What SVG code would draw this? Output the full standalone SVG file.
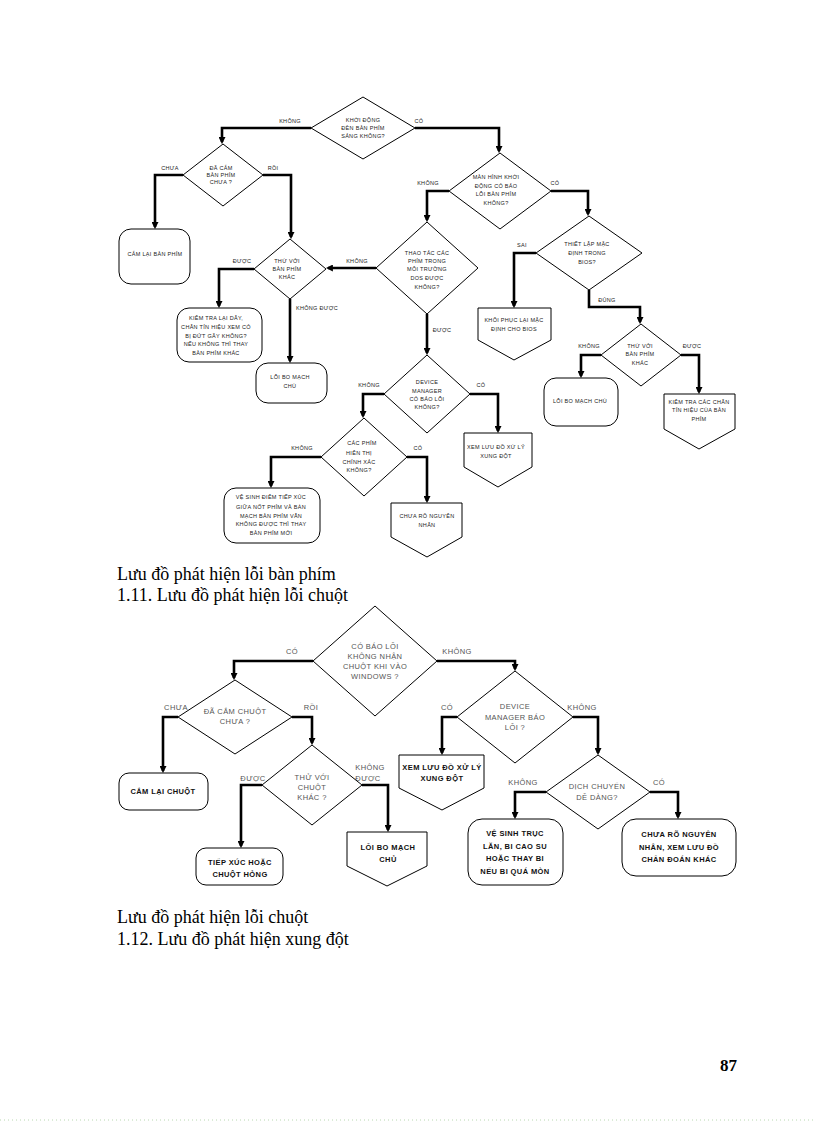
<svg xmlns="http://www.w3.org/2000/svg" width="816" height="1123" viewBox="0 0 816 1123">
<style>
.bg{fill:#fff}
.sh{fill:#fff;stroke:#000;stroke-width:1}
.cn path{fill:none;stroke:#000;stroke-width:2.6;marker-end:url(#ah)}
.t{font-family:"Liberation Sans",Arial,sans-serif;font-size:5.5px;fill:#222;text-anchor:middle;letter-spacing:0.3px}
.tl{font-family:"Liberation Sans",Arial,sans-serif;font-size:5.5px;fill:#222;text-anchor:start;letter-spacing:0.3px}
.d{font-family:"Liberation Sans",Arial,sans-serif;font-size:7.5px;fill:#555;text-anchor:middle;letter-spacing:0.4px}
.bb{font-family:"Liberation Sans",Arial,sans-serif;font-size:7.5px;font-weight:bold;fill:#111;text-anchor:middle;letter-spacing:0.4px}
.cap{font-family:"Liberation Serif","Times New Roman",serif;font-size:18px;fill:#000}
.pg{font-family:"Liberation Serif","Times New Roman",serif;font-size:17px;font-weight:bold;fill:#000}
</style>
<defs>
<marker id="ah" viewBox="0 0 10 10" refX="7" refY="5" markerWidth="7" markerHeight="7" markerUnits="userSpaceOnUse" orient="auto">
<path d="M0,0 L10,5 L0,10 z" fill="#000"/>
</marker>
</defs>
<rect class="bg" x="0" y="0" width="816" height="1123"/>

<!-- ===== Top chart connectors ===== -->
<g id="connectors-top" class="cn">
<path d="M311,128 H222 V142"/>
<path d="M415,128 H499 V151"/>
<path d="M183,175 H155 V227"/>
<path d="M263,175 H291 V237"/>
<path d="M254,269 H219 V306"/>
<path d="M290,299 V361"/>
<path d="M376,268 H328"/>
<path d="M449,191 H427 V220"/>
<path d="M551,191 H588 V214"/>
<path d="M427,314 V353"/>
<path d="M536,253 H514 V306"/>
<path d="M589,290 V307 H640 V322"/>
<path d="M601,355 H581 V376"/>
<path d="M681,355 H699 V392"/>
<path d="M384,394 H363 V416"/>
<path d="M470,394 H498 V431"/>
<path d="M321,457 H271 V486"/>
<path d="M407,457 H427 V501"/>
</g>
<g id="labels-top">
<text class="t" x="290" y="123">KHÔNG</text>
<text class="t" x="419" y="123">CÓ</text>
<text class="t" x="170" y="170">CHƯA</text>
<text class="t" x="273" y="170">RỒI</text>
<text class="t" x="242" y="263">ĐƯỢC</text>
<text class="t" x="357" y="263">KHÔNG</text>
<text class="tl" x="296" y="310">KHÔNG ĐƯỢC</text>
<text class="t" x="428" y="185">KHÔNG</text>
<text class="t" x="555" y="185">CÓ</text>
<text class="t" x="442" y="332">ĐƯỢC</text>
<text class="t" x="522" y="247">SAI</text>
<text class="t" x="607" y="302">ĐÚNG</text>
<text class="t" x="589" y="348">KHÔNG</text>
<text class="t" x="692" y="348">ĐƯỢC</text>
<text class="t" x="369" y="387">KHÔNG</text>
<text class="t" x="481" y="387">CÓ</text>
<text class="t" x="302" y="450">KHÔNG</text>
<text class="t" x="418" y="450">CÓ</text>
</g>

<!-- ===== Top chart nodes ===== -->
<g id="n-khoidong">
<polygon class="sh" points="363,97 415,128 363,159 311,128"/>
<text class="t" x="363" y="122">KHỞI ĐỘNG</text>
<text class="t" x="363" y="130">ĐÈN BÀN PHÍM</text>
<text class="t" x="363" y="138">SÁNG KHÔNG?</text>
</g>
<g id="n-dacam">
<polygon class="sh" points="223,144 263,175 223,206 183,175"/>
<text class="t" x="221" y="170">ĐÃ CẮM</text>
<text class="t" x="221" y="177">BÀN PHÍM</text>
<text class="t" x="221" y="184">CHƯA ?</text>
</g>
<g id="n-camlai">
<rect class="sh" x="119" y="229" width="71" height="55" rx="12"/>
<text class="t" x="155" y="256">CẮM LẠI BÀN PHÍM</text>
</g>
<g id="n-thuvoi1">
<polygon class="sh" points="290,239 326,269 290,299 254,269"/>
<text class="t" x="287" y="263">THỬ VỚI</text>
<text class="t" x="287" y="271">BÀN PHÍM</text>
<text class="t" x="287" y="279">KHÁC</text>
</g>
<g id="n-kiemtra1">
<rect class="sh" x="177" y="308" width="85" height="54" rx="12"/>
<text class="t" x="216" y="320">KIỂM TRA LẠI DÂY,</text>
<text class="t" x="216" y="329">CHÂN TÍN HIỆU XEM CÓ</text>
<text class="t" x="216" y="338">BỊ ĐỨT GÃY KHÔNG?</text>
<text class="t" x="216" y="346">NẾU KHÔNG THÌ THAY</text>
<text class="t" x="216" y="355">BÀN PHÍM KHÁC</text>
</g>
<g id="n-loibo1">
<rect class="sh" x="256" y="363" width="71" height="40" rx="12"/>
<text class="t" x="290" y="379">LỖI BO MẠCH</text>
<text class="t" x="290" y="388">CHỦ</text>
</g>
<g id="n-manhinh">
<polygon class="sh" points="500,153 551,191 500,229 449,191"/>
<text class="t" x="496" y="179">MÀN HÌNH KHỞI</text>
<text class="t" x="496" y="188">ĐỘNG CÓ BÁO</text>
<text class="t" x="496" y="196">LỖI BÀN PHÍM</text>
<text class="t" x="496" y="205">KHÔNG?</text>
</g>
<g id="n-thaotac">
<polygon class="sh" points="427,222 478,268 427,314 376,268"/>
<text class="t" x="427" y="255">THAO TÁC CÁC</text>
<text class="t" x="427" y="263">PHÍM TRONG</text>
<text class="t" x="427" y="271">MÔI TRƯỜNG</text>
<text class="t" x="427" y="280">DOS ĐƯỢC</text>
<text class="t" x="427" y="289">KHÔNG?</text>
</g>
<g id="n-thietlap">
<polygon class="sh" points="589,216 642,253 589,290 536,253"/>
<text class="t" x="587" y="246">THIẾT LẬP MẶC</text>
<text class="t" x="587" y="255">ĐỊNH TRONG</text>
<text class="t" x="587" y="264">BIOS?</text>
</g>
<g id="n-khoiphuc">
<path class="sh" d="M478,308 H551 V340 L514,360 L478,340 Z"/>
<text class="t" x="514" y="322">KHÔI PHỤC LẠI MẶC</text>
<text class="t" x="514" y="331">ĐỊNH CHO BIOS</text>
</g>
<g id="n-thuvoi2">
<polygon class="sh" points="641,324 681,355 641,386 601,355"/>
<text class="t" x="640" y="348">THỬ VỚI</text>
<text class="t" x="640" y="356">BÀN PHÍM</text>
<text class="t" x="640" y="365">KHÁC</text>
</g>
<g id="n-loibo2">
<rect class="sh" x="544" y="378" width="74" height="48" rx="12"/>
<text class="t" x="580" y="403">LỖI BO MẠCH CHỦ</text>
</g>
<g id="n-kiemtra2">
<path class="sh" d="M664,394 H735 V429 L699,449 L664,429 Z"/>
<text class="t" x="699" y="404">KIỂM TRA CÁC CHÂN</text>
<text class="t" x="699" y="412">TÍN HIỆU CỦA BÀN</text>
<text class="t" x="699" y="421">PHÍM</text>
</g>
<g id="n-device1">
<polygon class="sh" points="427,355 470,394 427,433 384,394"/>
<text class="t" x="427" y="384">DEVICE</text>
<text class="t" x="427" y="393">MANAGER</text>
<text class="t" x="427" y="401">CÓ BÁO LỖI</text>
<text class="t" x="427" y="409">KHÔNG?</text>
</g>
<g id="n-xemluu1">
<path class="sh" d="M464,433 H532 V467 L498,487 L464,467 Z"/>
<text class="t" x="496" y="449">XEM LƯU ĐỒ XỬ LÝ</text>
<text class="t" x="496" y="458">XUNG ĐỘT</text>
</g>
<g id="n-cacphim">
<polygon class="sh" points="364,418 407,457 364,496 321,457"/>
<text class="t" x="362" y="445">CÁC PHÍM</text>
<text class="t" x="359" y="455">HIỂN THỊ</text>
<text class="t" x="359" y="464">CHÍNH XÁC</text>
<text class="t" x="359" y="472">KHÔNG?</text>
</g>
<g id="n-vesinh1">
<rect class="sh" x="224" y="488" width="96" height="55" rx="12"/>
<text class="t" x="271" y="499">VỆ SINH ĐIỂM TIẾP XÚC</text>
<text class="t" x="271" y="509">GIỮA NỐT PHÍM VÀ BẢN</text>
<text class="t" x="271" y="518">MẠCH BÀN PHÍM VẪN</text>
<text class="t" x="271" y="526">KHÔNG ĐƯỢC THÌ THAY</text>
<text class="t" x="271" y="535">BÀN PHÍM MỚI</text>
</g>
<g id="n-chuaro1">
<path class="sh" d="M391,503 H462 V537 L427,557 L391,537 Z"/>
<text class="t" x="427" y="518">CHƯA RÕ NGUYÊN</text>
<text class="t" x="427" y="527">NHÂN</text>
</g>

<text class="cap" x="117" y="580">Lưu đồ phát hiện lỗi bàn phím</text>
<text class="cap" x="117" y="601">1.11. Lưu đồ phát hiện lỗi chuột</text>

<!-- ===== Bottom chart connectors ===== -->
<g id="connectors-bottom" class="cn">
<path d="M313,661 H234 V678"/>
<path d="M437,661 H515 V669"/>
<path d="M178,717 H163 V771"/>
<path d="M292,717 H312 V743"/>
<path d="M262,785 H241 V846"/>
<path d="M362,785 H388 V830"/>
<path d="M457,717 H442 V753"/>
<path d="M573,717 H598 V753"/>
<path d="M546,792 H515 V817"/>
<path d="M650,792 H678 V817"/>
</g>
<g id="labels-bottom">
<text class="d" x="292" y="654">CÓ</text>
<text class="d" x="457" y="654">KHÔNG</text>
<text class="d" x="176" y="710">CHƯA</text>
<text class="d" x="311" y="710">RỒI</text>
<text class="d" x="253" y="781">ĐƯỢC</text>
<text class="d" x="370" y="770">KHÔNG</text>
<text class="d" x="368" y="781">ĐƯỢC</text>
<text class="d" x="447" y="710">CÓ</text>
<text class="d" x="582" y="710">KHÔNG</text>
<text class="d" x="523" y="785">KHÔNG</text>
<text class="d" x="659" y="785">CÓ</text>
</g>

<!-- ===== Bottom chart nodes ===== -->
<g id="m-cobaoloi">
<polygon class="sh" points="375,606 437,661 375,716 313,661"/>
<text class="d" x="375" y="649">CÓ BÁO LỖI</text>
<text class="d" x="375" y="659">KHÔNG NHẬN</text>
<text class="d" x="375" y="669">CHUỘT KHI VÀO</text>
<text class="d" x="375" y="679">WINDOWS ?</text>
</g>
<g id="m-dacam">
<polygon class="sh" points="235,680 292,717 235,754 178,717"/>
<text class="d" x="235" y="714">ĐÃ CẮM CHUỘT</text>
<text class="d" x="235" y="724">CHƯA ?</text>
</g>
<g id="m-camlai">
<rect class="sh" x="119" y="773" width="89" height="37" rx="10"/>
<text class="bb" x="163" y="794">CẮM LẠI CHUỘT</text>
</g>
<g id="m-thuvoi">
<polygon class="sh" points="312,745 362,785 312,825 262,785"/>
<text class="d" x="312" y="780">THỬ VỚI</text>
<text class="d" x="312" y="790">CHUỘT</text>
<text class="d" x="312" y="800">KHÁC ?</text>
</g>
<g id="m-tiepxuc">
<rect class="sh" x="196" y="848" width="87" height="37" rx="10"/>
<text class="bb" x="240" y="865">TIẾP XÚC HOẶC</text>
<text class="bb" x="240" y="877">CHUỘT HỎNG</text>
</g>
<g id="m-loibo">
<path class="sh" d="M347,832 H427 V866 L387,886 L347,866 Z"/>
<text class="bb" x="388" y="850">LỖI BO MẠCH</text>
<text class="bb" x="388" y="862">CHỦ</text>
</g>
<g id="m-device">
<polygon class="sh" points="515,671 573,717 515,763 457,717"/>
<text class="d" x="515" y="709">DEVICE</text>
<text class="d" x="515" y="720">MANAGER BÁO</text>
<text class="d" x="515" y="730">LỖI ?</text>
</g>
<g id="m-xemluu">
<path class="sh" d="M399,755 H484 V788 L442,810 L399,788 Z"/>
<text class="bb" x="442" y="770">XEM LƯU ĐỒ XỬ LÝ</text>
<text class="bb" x="442" y="781">XUNG ĐỘT</text>
</g>
<g id="m-dichchuyen">
<polygon class="sh" points="598,755 650,792 598,829 546,792"/>
<text class="d" x="597" y="789">DỊCH CHUYỂN</text>
<text class="d" x="597" y="800">DỄ DÀNG?</text>
</g>
<g id="m-vesinh">
<rect class="sh" x="468" y="819" width="95" height="66" rx="14"/>
<text class="bb" x="515" y="836">VỆ SINH TRỤC</text>
<text class="bb" x="515" y="849">LĂN, BI CAO SU</text>
<text class="bb" x="515" y="861">HOẶC THAY BI</text>
<text class="bb" x="515" y="874">NẾU BI QUÁ MÒN</text>
</g>
<g id="m-chuaro">
<rect class="sh" x="622" y="819" width="114" height="57" rx="14"/>
<text class="bb" x="679" y="837">CHƯA RÕ NGUYÊN</text>
<text class="bb" x="679" y="850">NHÂN, XEM LƯU ĐỒ</text>
<text class="bb" x="679" y="862">CHẨN ĐOÁN KHÁC</text>
</g>

<text class="cap" x="117" y="923">Lưu đồ phát hiện lỗi chuột</text>
<text class="cap" x="117" y="945">1.12. Lưu đồ phát hiện xung đột</text>

<text class="pg" x="720" y="1071">87</text>
<line x1="0" y1="1120" x2="816" y2="1120" stroke="#b8d8b0" stroke-width="1" stroke-dasharray="1,3"/>
</svg>
